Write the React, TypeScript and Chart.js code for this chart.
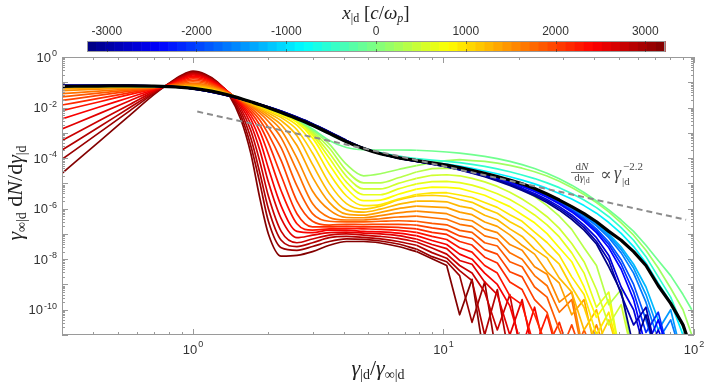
import React, { useEffect, useRef } from 'react';
import { Chart, registerables } from 'chart.js';
Chart.register(...registerables);

// ---- data (log10 of gamma_inf dN/dgamma, sampled on GAMMA) ----
const GAMMA = [0.3, 0.42, 0.55, 0.7, 0.8, 0.9, 1.0, 1.12, 1.25, 1.4, 1.55, 1.7, 1.85, 2.0, 2.25, 2.6, 3.0, 3.5, 4.1, 4.8, 5.6, 6.6, 7.8, 9.0, 10.3, 11.6, 13.0, 14.6, 16.4, 18.4, 20.6, 23.1, 25.9, 29.0, 32.5, 36.4, 40.8, 45.7, 51.2, 57.4, 64.3, 72.0, 80.7, 90.4, 98];
// index from which each curve is drawn as a plain (noisy) polyline
const SPLIT = 22;

const BLACK = [-1.16, -1.15, -1.14, -1.15, -1.17, -1.2, -1.24, -1.31, -1.40, -1.52, -1.64, -1.77, -1.89, -2.01, -2.20, -2.44, -2.70, -3.02, -3.35, -3.62, -3.83, -3.98, -4.10, -4.19, -4.28, -4.38, -4.48, -4.60, -4.73, -4.87, -5.02, -5.20, -5.42, -5.66, -5.92, -6.20, -6.52, -6.90, -7.25, -7.7, -8.25, -9.05, -9.75, -10.6, -11.6];

const B0 = [-1.12, -1.12, -1.12, -1.14, -1.16, -1.2, -1.26, -1.34, -1.44, -1.55, -1.66, -1.77, -1.87, -1.97, -2.14, -2.38, -2.64, -2.96, -3.3, -3.6, -3.83, -4.0, -4.13, -4.24, -4.35, -4.47, -4.6, -4.74, -4.9, -5.08, -5.28, -5.5, -5.76, -6.06, -6.42, -6.85, -7.4, -8.3, -9.3, -11.5, -10.2, -12];
const B1 = [-1.12, -1.12, -1.12, -1.14, -1.16, -1.2, -1.26, -1.34, -1.44, -1.55, -1.66, -1.77, -1.87, -1.97, -2.14, -2.38, -2.64, -2.96, -3.3, -3.6, -3.83, -4.0, -4.13, -4.24, -4.34, -4.46, -4.58, -4.72, -4.87, -5.04, -5.24, -5.45, -5.7, -5.99, -6.33, -6.75, -7.3, -8.05, -9.4, -10.6, -9.9, -12];
const B2 = [-1.13, -1.13, -1.13, -1.14, -1.16, -1.2, -1.26, -1.34, -1.43, -1.54, -1.66, -1.77, -1.87, -1.98, -2.15, -2.39, -2.65, -2.97, -3.31, -3.6, -3.83, -3.99, -4.12, -4.23, -4.33, -4.44, -4.56, -4.69, -4.84, -5.0, -5.19, -5.4, -5.64, -5.92, -6.25, -6.65, -7.15, -7.85, -9.1, -10.0, -11.8, -10.8, -12];
const B3 = [-1.13, -1.13, -1.13, -1.15, -1.16, -1.2, -1.25, -1.33, -1.42, -1.54, -1.66, -1.77, -1.88, -1.98, -2.16, -2.4, -2.66, -2.98, -3.32, -3.61, -3.83, -3.99, -4.12, -4.22, -4.31, -4.41, -4.52, -4.65, -4.79, -4.94, -5.12, -5.32, -5.55, -5.82, -6.13, -6.5, -6.95, -7.55, -8.4, -9.6, -11.5, -10.4, -12];
const B4 = [-1.13, -1.13, -1.13, -1.15, -1.16, -1.2, -1.25, -1.33, -1.42, -1.54, -1.66, -1.77, -1.88, -1.98, -2.16, -2.4, -2.66, -2.98, -3.32, -3.61, -3.83, -3.99, -4.12, -4.21, -4.3, -4.4, -4.51, -4.63, -4.77, -4.92, -5.1, -5.29, -5.52, -5.78, -6.08, -6.44, -6.87, -7.42, -8.2, -9.3, -10.9, -10.1, -12];
const B5 = [-1.14, -1.14, -1.13, -1.15, -1.17, -1.2, -1.25, -1.33, -1.42, -1.53, -1.65, -1.77, -1.88, -1.99, -2.17, -2.41, -2.67, -2.99, -3.33, -3.61, -3.83, -3.99, -4.11, -4.21, -4.3, -4.4, -4.5, -4.62, -4.76, -4.91, -5.08, -5.27, -5.49, -5.75, -6.04, -6.38, -6.8, -7.32, -8.02, -9.0, -10.4, -12];
const B6 = [-1.14, -1.14, -1.14, -1.15, -1.17, -1.2, -1.25, -1.32, -1.41, -1.53, -1.65, -1.77, -1.88, -1.99, -2.18, -2.42, -2.68, -3.0, -3.34, -3.62, -3.83, -3.99, -4.11, -4.2, -4.29, -4.39, -4.49, -4.61, -4.74, -4.89, -5.05, -5.23, -5.45, -5.7, -5.98, -6.3, -6.68, -7.15, -7.75, -8.55, -9.7, -11.2, -10.4, -12];
const B7 = [-1.14, -1.14, -1.14, -1.15, -1.17, -1.2, -1.25, -1.32, -1.41, -1.52, -1.64, -1.77, -1.88, -2.0, -2.18, -2.42, -2.68, -3.0, -3.34, -3.62, -3.83, -3.98, -4.1, -4.19, -4.28, -4.38, -4.48, -4.6, -4.73, -4.88, -5.03, -5.21, -5.43, -5.67, -5.95, -6.26, -6.62, -7.07, -7.62, -8.35, -9.4, -10.8, -10.0, -12];
const B8 = [-1.15, -1.14, -1.14, -1.15, -1.17, -1.2, -1.24, -1.32, -1.41, -1.52, -1.64, -1.77, -1.88, -2.0, -2.19, -2.43, -2.69, -3.01, -3.34, -3.62, -3.83, -3.98, -4.1, -4.19, -4.28, -4.38, -4.48, -4.6, -4.73, -4.87, -5.02, -5.2, -5.41, -5.65, -5.92, -6.22, -6.57, -7.0, -7.52, -8.2, -9.1, -10.4, -11.6, -12];

const C0 = [-1.15, -1.15, -1.14, -1.15, -1.17, -1.2, -1.24, -1.31, -1.4, -1.52, -1.64, -1.77, -1.89, -2.01, -2.2, -2.44, -2.7, -3.02, -3.35, -3.62, -3.82, -3.97, -4.08, -4.17, -4.24, -4.32, -4.41, -4.51, -4.62, -4.74, -4.87, -5.02, -5.2, -5.4, -5.62, -5.88, -6.18, -6.55, -6.98, -7.5, -8.15, -8.95, -9.7, -11, -12];
const C1 = [-1.16, -1.15, -1.15, -1.16, -1.17, -1.2, -1.24, -1.31, -1.4, -1.52, -1.64, -1.77, -1.89, -2.01, -2.2, -2.45, -2.72, -3.05, -3.36, -3.6, -3.78, -3.92, -4.02, -4.08, -4.13, -4.18, -4.25, -4.33, -4.43, -4.54, -4.67, -4.81, -4.98, -5.17, -5.4, -5.66, -5.96, -6.32, -6.75, -7.25, -7.9, -8.7, -9.5, -10.7, -12];
const G1 = [-1.16, -1.15, -1.15, -1.16, -1.17, -1.2, -1.24, -1.31, -1.4, -1.52, -1.64, -1.77, -1.89, -2.01, -2.21, -2.46, -2.85, -3.3, -3.58, -3.67, -3.68, -3.68, -3.69, -3.72, -3.76, -3.8, -3.86, -3.93, -4.02, -4.13, -4.26, -4.41, -4.6, -4.82, -5.07, -5.36, -5.7, -6.05, -6.45, -6.9, -7.45, -8.05, -8.65, -9.4, -10.0];
const G2 = [-1.16, -1.15, -1.15, -1.16, -1.17, -1.2, -1.24, -1.31, -1.4, -1.52, -1.64, -1.77, -1.89, -2.01, -2.21, -2.46, -2.9, -3.45, -4.25, -4.7, -4.62, -4.45, -4.3, -4.18, -4.1, -4.06, -4.1, -4.13, -4.2, -4.29, -4.4, -4.54, -4.71, -4.92, -5.16, -5.44, -5.76, -6.13, -6.56, -7.05, -7.65, -8.35, -9.15, -10.0, -11.0];

const F0 = [-1.17, -1.16, -1.16, -1.17, -1.18, -1.2, -1.23, -1.31, -1.4, -1.52, -1.64, -1.77, -1.89, -2.02, -2.21, -2.47, -2.95, -3.6, -4.5, -4.98, -4.98, -4.78, -4.55, -4.42, -4.4, -4.43, -4.5, -4.62, -4.78, -4.98, -5.22, -5.52, -5.88, -6.3, -6.82, -7.55, -8.25, -9.8, -9.2, -12];
const F1 = [-1.17, -1.16, -1.16, -1.17, -1.18, -1.2, -1.23, -1.31, -1.4, -1.52, -1.64, -1.77, -1.89, -2.02, -2.22, -2.49, -3.0, -3.8, -4.72, -5.22, -5.22, -5.0, -4.8, -4.68, -4.66, -4.7, -4.8, -4.94, -5.12, -5.35, -5.62, -5.94, -6.32, -6.78, -7.38, -8.1, -9.2, -10.6, -9.8, -12];
const F2 = [-1.17, -1.16, -1.16, -1.17, -1.18, -1.2, -1.23, -1.3, -1.39, -1.51, -1.64, -1.77, -1.9, -2.03, -2.24, -2.52, -3.08, -4.0, -4.95, -5.45, -5.45, -5.22, -5.02, -4.93, -4.92, -4.97, -5.07, -5.22, -5.41, -5.64, -5.92, -6.25, -6.64, -7.12, -7.75, -8.55, -9.9, -9.3, -12];
const F3 = [-1.17, -1.16, -1.16, -1.17, -1.18, -1.2, -1.22, -1.29, -1.38, -1.51, -1.64, -1.78, -1.92, -2.06, -2.26, -2.58, -3.2, -4.25, -5.2, -5.68, -5.66, -5.43, -5.23, -5.15, -5.16, -5.2, -5.33, -5.47, -5.7, -5.92, -6.24, -6.56, -6.99, -7.55, -8.1, -9.1, -10.3, -9.6, -12];
const F4 = [-1.17, -1.16, -1.16, -1.17, -1.18, -1.2, -1.22, -1.27, -1.37, -1.51, -1.65, -1.8, -1.95, -2.1, -2.32, -2.7, -3.45, -4.6, -5.5, -5.88, -5.84, -5.62, -5.44, -5.38, -5.37, -5.46, -5.56, -5.76, -5.95, -6.24, -6.5, -6.93, -7.34, -7.85, -8.7, -9.4, -11, -10.1, -12];
const F5 = [-1.18, -1.17, -1.17, -1.17, -1.17, -1.18, -1.2, -1.24, -1.35, -1.5, -1.65, -1.81, -1.98, -2.15, -2.4, -2.88, -3.8, -5.0, -5.8, -6.02, -5.9, -5.66, -5.5, -5.47, -5.51, -5.64, -5.75, -5.99, -6.18, -6.52, -6.78, -7.2, -7.75, -8.2, -9.1, -9.9, -11.4, -10.4, -12];
const F6 = [-1.21, -1.2, -1.19, -1.18, -1.17, -1.16, -1.17, -1.21, -1.33, -1.49, -1.66, -1.84, -2.03, -2.22, -2.52, -3.12, -4.25, -5.4, -6.05, -6.14, -6.02, -5.83, -5.7, -5.7, -5.73, -5.9, -5.99, -6.26, -6.44, -6.8, -7.1, -7.6, -7.95, -8.75, -9.3, -10.8, -10.0, -12];
const F7 = [-1.26, -1.23, -1.2, -1.18, -1.16, -1.14, -1.13, -1.17, -1.3, -1.48, -1.67, -1.87, -2.08, -2.3, -2.68, -3.5, -4.75, -5.75, -6.22, -6.26, -6.15, -6.0, -5.9, -5.93, -5.96, -6.14, -6.24, -6.53, -6.7, -7.04, -7.45, -7.8, -8.5, -8.95, -10.2, -9.6, -11.8, -12];
const F8 = [-1.33, -1.27, -1.23, -1.19, -1.16, -1.12, -1.09, -1.13, -1.27, -1.47, -1.68, -1.9, -2.14, -2.4, -2.9, -4.0, -5.3, -6.05, -6.35, -6.36, -6.28, -6.17, -6.1, -6.15, -6.2, -6.4, -6.48, -6.8, -6.95, -7.42, -7.65, -8.3, -8.6, -9.7, -9.3, -11.8, -10.6, -12];
const F9 = [-1.45, -1.35, -1.27, -1.2, -1.15, -1.09, -1.04, -1.09, -1.24, -1.46, -1.69, -1.94, -2.22, -2.55, -3.2, -4.5, -5.8, -6.35, -6.45, -6.45, -6.4, -6.33, -6.3, -6.36, -6.42, -6.62, -6.7, -7.08, -7.2, -7.75, -8.0, -8.65, -9.05, -10.1, -9.6, -12, -10.9, -12];
const F10 = [-1.58, -1.43, -1.31, -1.21, -1.14, -1.05, -0.98, -1.04, -1.21, -1.45, -1.71, -2.0, -2.35, -2.78, -3.6, -5.1, -6.2, -6.5, -6.52, -6.52, -6.5, -6.48, -6.5, -6.58, -6.64, -6.86, -6.94, -7.35, -7.48, -8.1, -8.3, -9.1, -9.5, -10.8, -12, -10.8, -12];
const F11 = [-1.72, -1.52, -1.36, -1.22, -1.13, -1.01, -0.92, -0.99, -1.18, -1.44, -1.73, -2.08, -2.5, -3.05, -4.1, -5.7, -6.5, -6.65, -6.62, -6.63, -6.62, -6.62, -6.65, -6.76, -6.84, -7.08, -7.18, -7.62, -7.8, -8.5, -8.7, -9.6, -10.1, -11.8, -10.6, -12];
const F12 = [-1.9, -1.64, -1.43, -1.24, -1.12, -0.97, -0.86, -0.94, -1.15, -1.43, -1.76, -2.18, -2.7, -3.4, -4.7, -6.2, -6.72, -6.72, -6.7, -6.72, -6.72, -6.74, -6.8, -6.94, -7.02, -7.3, -7.44, -7.92, -8.15, -8.9, -9.2, -10.2, -11.5, -10.5, -12];
const F13 = [-2.12, -1.78, -1.5, -1.26, -1.11, -0.93, -0.81, -0.9, -1.12, -1.42, -1.8, -2.3, -2.95, -3.85, -5.3, -6.6, -6.85, -6.8, -6.78, -6.8, -6.82, -6.86, -6.94, -7.1, -7.22, -7.55, -7.72, -8.25, -8.55, -9.45, -9.8, -11.5, -10.2, -12];
const F14 = [-2.45, -1.99, -1.62, -1.29, -1.1, -0.89, -0.76, -0.85, -1.09, -1.42, -1.85, -2.45, -3.3, -4.4, -5.9, -6.9, -6.95, -6.85, -6.85, -6.9, -6.92, -6.97, -7.07, -7.26, -7.42, -7.8, -8.0, -8.55, -9.0, -9.85, -11.5, -9.9, -12];
const F15 = [-2.85, -2.25, -1.76, -1.32, -1.09, -0.85, -0.71, -0.81, -1.06, -1.43, -1.92, -2.65, -3.7, -4.95, -6.4, -7.15, -7.05, -6.95, -6.93, -6.97, -7.0, -7.07, -7.2, -7.42, -7.58, -8.05, -8.2, -8.9, -9.4, -11, -9.6, -12];
const F16 = [-3.3, -2.53, -1.92, -1.36, -1.08, -0.81, -0.67, -0.78, -1.04, -1.45, -2.02, -2.9, -4.15, -5.5, -6.9, -7.35, -7.2, -7.05, -7.0, -7.05, -7.1, -7.18, -7.32, -7.56, -7.8, -8.25, -8.55, -9.3, -10.8, -9.4, -12];
const F17 = [-3.68, -2.78, -2.05, -1.4, -1.07, -0.78, -0.63, -0.75, -1.02, -1.47, -2.15, -3.2, -4.6, -6.0, -7.25, -7.5, -7.35, -7.15, -7.1, -7.14, -7.2, -7.3, -7.45, -7.74, -7.96, -8.45, -8.85, -11, -9.2, -12];
const F18 = [-4.05, -3.01, -2.18, -1.43, -1.06, -0.75, -0.6, -0.71, -1.0, -1.5, -2.3, -3.5, -5.0, -6.5, -7.55, -7.65, -7.5, -7.3, -7.2, -7.22, -7.28, -7.4, -7.6, -7.9, -8.1, -8.65, -10.5, -8.9, -12];
const F19 = [-4.6, -3.37, -2.37, -1.48, -1.05, -0.72, -0.56, -0.68, -0.98, -1.55, -2.45, -3.8, -5.6, -7.0, -7.88, -7.85, -7.7, -7.45, -7.3, -7.3, -7.36, -7.5, -7.7, -7.98, -8.25, -10.2, -8.8, -12];

// x position (c/omega_p) of each curve -> colour
const BLUE_POS = [-3150, -2900, -2650, -2400, -2150, -1900, -1650, -1450, -1250];
const CG_POS = [-900, -500, -100, 200];
const FAMILY_POS = [350, 500, 650, 800, 950, 1100, 1250, 1400, 1550, 1700, 1850, 2000, 2150, 2300, 2450, 2600, 2750, 2900, 3050, 3200];

// power-law guide (endpoints)
const DASH_X = [1.04, 93];
const DASH_LOG = [-2.16, -6.44];

const CB_MIN = -3220;
const CB_MAX = 3220;
const CB_TICKS = [-3000, -2000, -1000, 0, 1000, 2000, 3000];
const X_LABEL_EXP = [0, 1, 2];
const Y_LABEL_EXP = [0, -2, -4, -6, -8, -10];

// ---- helpers ----
const clamp = (v: number) => Math.max(0, Math.min(1, v));
function jet(t: number): string {
  const r = clamp(Math.min(4 * t - 1.5, -4 * t + 4.5));
  const g = clamp(Math.min(4 * t - 0.5, -4 * t + 3.5));
  const b = clamp(Math.min(4 * t + 0.5, -4 * t + 2.5));
  return `rgb(${Math.round(r * 255)},${Math.round(g * 255)},${Math.round(b * 255)})`;
}
const tOf = (x: number) => (x - CB_MIN) / (CB_MAX - CB_MIN);
const pts = (vals: number[], from: number, to: number) =>
  vals.slice(from, to).map((v, i) => ({ x: GAMMA[from + i], y: Math.pow(10, v) }));

const SERIF = '"Liberation Serif", "DejaVu Serif", serif';
const SANS = '"Liberation Sans", Arial, sans-serif';

type Part = [string, number, boolean, number];
function drawParts(ctx: CanvasRenderingContext2D, parts: Part[], x: number, y: number, align: string) {
  const widths = parts.map(([t, s, it]) => {
    ctx.font = `${it ? 'italic ' : ''}${s}px ${SERIF}`;
    return ctx.measureText(t).width;
  });
  const total = widths.reduce((a, b) => a + b, 0);
  let cx = align === 'center' ? x - total / 2 : align === 'right' ? x - total : x;
  ctx.textAlign = 'left';
  ctx.textBaseline = 'alphabetic';
  parts.forEach(([t, s, it, dy], i) => {
    ctx.font = `${it ? 'italic ' : ''}${s}px ${SERIF}`;
    ctx.fillText(t, cx, y + dy);
    cx += widths[i];
  });
}

const AXIS = '#9a9a9a';
const TEXT = '#333333';

const decor = {
  id: 'decor',
  afterDraw(chart: any) {
    const ctx: CanvasRenderingContext2D = chart.ctx;
    const { left, right, top, bottom } = chart.chartArea;
    const xs = chart.scales.x;
    const ys = chart.scales.y;
    ctx.save();

    ctx.strokeStyle = AXIS;
    ctx.lineWidth = 1;
    ctx.strokeRect(left + 0.5, top + 0.5, right - left - 1, bottom - top - 1);

    ctx.beginPath();
    for (let e = -1; e <= 2; e++) {
      for (let m = 1; m <= 9; m++) {
        const v = m * Math.pow(10, e);
        if (v < 0.3 - 1e-9 || v > 100 + 1e-9) continue;
        const px = Math.round(xs.getPixelForValue(v)) + 0.5;
        const len = m === 1 ? 6 : 3;
        ctx.moveTo(px, bottom); ctx.lineTo(px, bottom - len);
        ctx.moveTo(px, top); ctx.lineTo(px, top + len);
      }
    }
    for (let e = -11; e <= 0; e++) {
      for (let m = 1; m <= 9; m++) {
        const v = m * Math.pow(10, e);
        if (v < 1e-11 * 0.999 || v > 1.001) continue;
        const py = Math.round(ys.getPixelForValue(v)) + 0.5;
        const len = m === 1 ? 6 : 3;
        ctx.moveTo(left, py); ctx.lineTo(left + len, py);
        ctx.moveTo(right, py); ctx.lineTo(right - len, py);
      }
    }
    ctx.stroke();

    ctx.fillStyle = TEXT;
    ctx.textAlign = 'left';
    ctx.textBaseline = 'alphabetic';
    X_LABEL_EXP.forEach((e) => {
      const px = xs.getPixelForValue(Math.pow(10, e));
      ctx.font = `13px ${SANS}`;
      const w1 = ctx.measureText('10').width;
      ctx.font = `9px ${SANS}`;
      const w2 = ctx.measureText(String(e)).width;
      const s = px - (w1 + w2 + 1) / 2;
      ctx.font = `13px ${SANS}`;
      ctx.fillText('10', s, 354);
      ctx.font = `9px ${SANS}`;
      ctx.fillText(String(e), s + w1 + 1, 347);
    });
    Y_LABEL_EXP.forEach((e) => {
      const py = ys.getPixelForValue(Math.pow(10, e));
      ctx.font = `13px ${SANS}`;
      const w1 = ctx.measureText('10').width;
      ctx.font = `9px ${SANS}`;
      const w2 = ctx.measureText(String(e)).width;
      const s = 57 - (w1 + w2 + 1);
      ctx.font = `13px ${SANS}`;
      ctx.fillText('10', s, py + 4.5);
      ctx.font = `9px ${SANS}`;
      ctx.fillText(String(e), s + w1 + 1, py - 1);
    });

    ctx.fillStyle = '#222';
    drawParts(ctx, [['γ', 22, true, 0], ['|d', 14, false, 4], ['/', 22, false, 0], ['γ', 22, true, 0], ['∞|d', 14, false, 4]], 378, 375, 'center');
    ctx.save();
    ctx.translate(22, 193);
    ctx.rotate(-Math.PI / 2);
    drawParts(ctx, [['γ', 22, true, 0], ['∞|d', 14, false, 4], [' d', 22, false, 0], ['N', 22, true, 0], ['/', 22, false, 0], ['d', 22, false, 0], ['γ', 22, true, 0], ['|d', 14, false, 4]], 0, 0, 'center');
    ctx.restore();

    ctx.fillStyle = '#4a4a4a';
    ctx.strokeStyle = '#4a4a4a';
    drawParts(ctx, [['d', 11, false, 0], ['N', 11, true, 0]], 582, 170, 'center');
    ctx.lineWidth = 0.8;
    ctx.beginPath(); ctx.moveTo(571, 172.5); ctx.lineTo(594, 172.5); ctx.stroke();
    drawParts(ctx, [['d', 11, false, 0], ['γ', 11, true, 0], ['|d', 8, false, 2]], 582, 181, 'center');
    drawParts(ctx, [['∝', 17, false, 0]], 600, 180, 'left');
    drawParts(ctx, [['γ', 18, true, 0]], 614, 179, 'left');
    drawParts(ctx, [['|d', 11, false, 0]], 622, 185, 'left');
    drawParts(ctx, [['−2.2', 11, false, 0]], 623, 170, 'left');

    const cbL = 87, cbR = 665, cbT = 41, cbB = 52;
    const n = 64;
    const cw = (cbR - cbL) / n;
    for (let i = 0; i < n; i++) {
      ctx.fillStyle = jet((i + 0.5) / n);
      ctx.fillRect(cbL + i * cw, cbT, cw + 0.6, cbB - cbT);
    }
    ctx.strokeStyle = AXIS;
    ctx.lineWidth = 1;
    ctx.strokeRect(cbL + 0.5, cbT + 0.5, cbR - cbL - 1, cbB - cbT - 1);
    ctx.strokeStyle = 'rgba(40,40,40,0.55)';
    ctx.beginPath();
    CB_TICKS.forEach((v) => {
      const px = Math.round(cbL + tOf(v) * (cbR - cbL)) + 0.5;
      ctx.moveTo(px, cbT); ctx.lineTo(px, cbT + 3);
      ctx.moveTo(px, cbB); ctx.lineTo(px, cbB - 3);
    });
    ctx.stroke();
    ctx.fillStyle = TEXT;
    ctx.font = `12px ${SANS}`;
    ctx.textAlign = 'center';
    CB_TICKS.forEach((v) => {
      const px = cbL + tOf(v) * (cbR - cbL);
      ctx.fillText(String(v), px, 35);
    });
    ctx.fillStyle = '#222';
    drawParts(ctx, [['x', 19, true, 0], ['|d', 12, false, 3], [' [', 19, false, 0], ['c', 19, true, 0], ['/', 19, false, 0], ['ω', 19, true, 0], ['p', 12, true, 3], [']', 19, false, 0]], 376, 19, 'center');

    ctx.restore();
  },
};

export default function App() {
  const ref = useRef<HTMLCanvasElement | null>(null);
  useEffect(() => {
    if (!ref.current) return;
    const datasets: any[] = [];
    const addCurve = (vals: number[], color: string, width: number) => {
      datasets.push({
        data: pts(vals, 0, SPLIT + 1),
        borderColor: color,
        borderWidth: width,
        pointRadius: 0,
        fill: false,
        cubicInterpolationMode: 'monotone',
      });
      datasets.push({
        data: pts(vals, SPLIT, vals.length),
        borderColor: color,
        borderWidth: width,
        pointRadius: 0,
        fill: false,
        tension: 0,
      });
    };
    datasets.push({
      data: DASH_X.map((x, i) => ({ x, y: Math.pow(10, DASH_LOG[i]) })),
      borderColor: '#8c8c8c',
      borderWidth: 2,
      borderDash: [6, 4],
      pointRadius: 0,
      fill: false,
      tension: 0,
    });
    addCurve(BLACK, '#000000', 3.2);
    const blues = [B0, B1, B2, B3, B4, B5, B6, B7, B8];
    blues.forEach((b, i) => addCurve(b, jet(tOf(BLUE_POS[i])), 1.7));
    const cg = [C0, C1, G1, G2];
    cg.forEach((c, i) => addCurve(c, jet(tOf(CG_POS[i])), 1.7));
    const fam = [F0, F1, F2, F3, F4, F5, F6, F7, F8, F9, F10, F11, F12, F13, F14, F15, F16, F17, F18, F19];
    fam.forEach((f, i) => addCurve(f, jet(tOf(FAMILY_POS[i])), 1.7));

    const chart = new Chart(ref.current, {
      type: 'line',
      data: { datasets },
      options: {
        responsive: false,
        animation: false,
        devicePixelRatio: 1,
        events: [],
        layout: { padding: { left: 62, right: 12, top: 57, bottom: 48 } },
        plugins: { legend: { display: false }, tooltip: { enabled: false } },
        elements: { point: { radius: 0 }, line: { borderJoinStyle: 'round', borderCapStyle: 'butt' } },
        scales: {
          x: { type: 'logarithmic', min: 0.3, max: 100, display: false },
          y: { type: 'logarithmic', min: 1e-11, max: 1, display: false },
        },
      } as any,
      plugins: [decor],
    });
    return () => chart.destroy();
  }, []);
  return (
    <div style={{ position: 'absolute', left: 0, top: 0, width: 706, height: 383, background: '#fff' }}>
      <canvas ref={ref} width={706} height={383} style={{ display: 'block' }} />
    </div>
  );
}
